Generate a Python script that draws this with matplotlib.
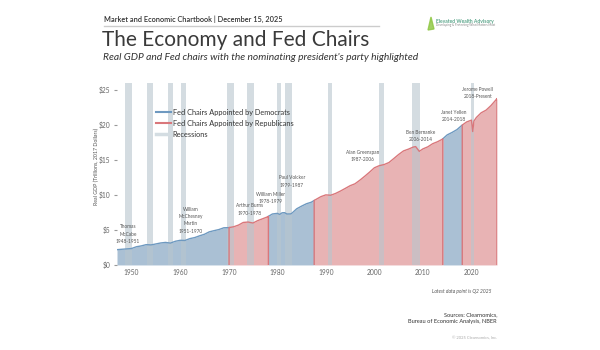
import matplotlib.pyplot as plt
from matplotlib.lines import Line2D
import numpy as np

plt.rcParams['font.family'] = ['Lato', 'DejaVu Sans']

# real GDP, trillions of 2017 dollars (mostly Q1 of each year)
dates = [1947.0, 1948.0, 1949.0, 1950.0, 1951.0, 1952.0, 1953.0, 1954.0, 1955.0, 1956.0,
         1957.0, 1958.0, 1959.0, 1960.0, 1961.0, 1962.0, 1963.0, 1964.0, 1965.0, 1966.0,
         1967.0, 1968.0, 1969.0, 1970.0, 1971.0, 1972.0, 1973.0, 1974.0, 1975.0, 1976.0,
         1977.0, 1978.0, 1979.0, 1980.0, 1980.5, 1981.0, 1981.5, 1982.0, 1982.75, 1983.0,
         1984.0, 1985.0, 1986.0, 1987.0, 1988.0, 1989.0, 1990.0, 1991.0, 1992.0, 1993.0,
         1994.0, 1995.0, 1996.0, 1997.0, 1998.0, 1999.0, 2000.0, 2001.0, 2002.0, 2003.0,
         2004.0, 2005.0, 2006.0, 2007.0, 2008.0, 2008.5, 2009.25, 2010.0, 2011.0, 2012.0,
         2013.0, 2014.0, 2015.0, 2016.0, 2017.0, 2018.0, 2019.0, 2020.0, 2020.25, 2020.5,
         2021.0, 2022.0, 2023.0, 2024.0, 2025.0, 2025.25]
gdp = [2.18, 2.24, 2.29, 2.35, 2.60, 2.72, 2.90, 2.86, 3.00, 3.14,
       3.22, 3.12, 3.38, 3.52, 3.50, 3.76, 3.91, 4.16, 4.38, 4.73,
       4.90, 5.06, 5.31, 5.33, 5.45, 5.69, 6.07, 6.13, 5.99, 6.34,
       6.60, 6.87, 7.28, 7.37, 7.22, 7.45, 7.47, 7.28, 7.29, 7.38,
       8.02, 8.40, 8.74, 8.96, 9.37, 9.76, 10.01, 9.96, 10.21, 10.55,
       10.93, 11.32, 11.59, 12.10, 12.66, 13.25, 13.88, 14.18, 14.34, 14.63,
       15.20, 15.78, 16.29, 16.54, 16.84, 16.91, 16.23, 16.58, 16.87, 17.32,
       17.60, 17.96, 18.58, 18.93, 19.33, 19.93, 20.43, 20.69, 19.06, 20.55,
       21.06, 21.74, 22.11, 22.76, 23.55, 23.77]

# start of each chair's term and the nominating president's party
party_breaks = [1947.0, 1970.08, 1978.18, 1987.61, 2014.09, 2018.10, 2025.25]
party = ['D', 'R', 'D', 'R', 'D', 'R']

rec_start = [1948.75, 1953.25, 1957.5, 1960.25, 1969.75, 1973.75, 1980.0, 1981.5,
             1990.5, 2001.0, 2007.75, 2020.0]
rec_end = [1950.0, 1954.5, 1958.5, 1961.25, 1971.0, 1975.25, 1980.75, 1983.0,
           1991.25, 2002.0, 2009.5, 2020.5]

chair_labels = ['Thomas\nMcCabe\n1948-1951', 'William\nMcChesney\nMartin\n1951-1970',
                'Arthur Burns\n1970-1978', 'William Miller\n1978-1979',
                'Paul Volcker\n1979-1987', 'Alan Greenspan\n1987-2006',
                'Ben Bernanke\n2006-2014', 'Janet Yellen\n2014-2018',
                'Jerome Powell\n2018-Present']
label_x = [1949.3, 1962.2, 1974.3, 1978.6, 1983.0, 1997.6, 2009.6, 2016.4, 2021.3]
label_y = [4.4, 6.4, 7.9, 9.6, 11.9, 15.6, 18.4, 21.3, 24.6]

fill_col = {'D': '#aac0d4', 'R': '#e8b3b4'}
line_col = {'D': '#6e99c0', 'R': '#d9777b'}

dates = np.array(dates)
gdp = np.array(gdp)

fig = plt.figure(figsize=(6, 3.5), dpi=100)
ax = fig.add_axes([0.195, 0.243, 0.6333, 0.52])

order = [i for i in range(len(party)) if party[i] == 'D'] + [i for i in range(len(party)) if party[i] == 'R']
for i in order:
    a, b = party_breaks[i], party_breaks[i + 1]
    m = (dates > a) & (dates < b)
    xs = np.concatenate([[a], dates[m], [b]])
    ys = np.concatenate([[np.interp(a, dates, gdp)], gdp[m], [np.interp(b, dates, gdp)]])
    ax.fill_between(xs, 0, ys, color=fill_col[party[i]], lw=0, zorder=1)
    if party[i] == 'R':
        ax.plot(np.concatenate([[a], xs, [b]]), np.concatenate([[0], ys, [0]]),
                color=line_col['R'], lw=1, zorder=3)
    else:
        ax.plot(xs, ys, color=line_col['D'], lw=1, zorder=3)

for s, e in zip(rec_start, rec_end):
    ax.axvspan(s, e, color='#b8c6ce', alpha=0.6, lw=0, zorder=2)

for txt, x, y in zip(chair_labels, label_x, label_y):
    ax.text(x, y, txt, ha='center', va='center', fontsize=3.4, color='#555555',
            linespacing=1.6, zorder=4)

ax.set_xlim(1947, 2025.25)
ax.set_ylim(0, 26)
ax.set_xticks(range(1950, 2021, 10))
ax.set_yticks(range(0, 26, 5))
ax.set_yticklabels(['$' + str(v) for v in range(0, 26, 5)])
ax.tick_params(axis='both', labelsize=4.8, colors='#666666', length=0, pad=3)
ax.tick_params(axis='y', length=2, color='#999999')
for sp in ax.spines.values():
    sp.set_visible(False)

handles = [Line2D([], [], color=line_col['D'], lw=1.5),
           Line2D([], [], color=line_col['R'], lw=1.5),
           Line2D([], [], color='#d4dde2', lw=2.5)]
ax.legend(handles, ['Fed Chairs Appointed by Democrats', 'Fed Chairs Appointed by Republicans',
                    'Recessions'],
          loc='upper left', bbox_to_anchor=(0.085, 0.895), frameon=False, fontsize=5.3,
          handlelength=2.0, handletextpad=0.3, labelspacing=0.55, labelcolor='#333333')

fig.text(96 / 600, 1 - 166 / 350, 'Real GDP (Trillions, 2017 Dollars)', rotation=90,
         ha='center', va='center', fontsize=3.8, color='#555555')

# header
fig.text(104 / 600, 1 - 19 / 350, 'Market and Economic Chartbook | December 15, 2025',
         fontsize=5.3, weight='semibold', color='#333333', va='center')
fig.add_artist(Line2D([104 / 600, 379 / 600], [1 - 26 / 350] * 2, color='#cccccc', lw=1))
fig.text(102 / 600, 1 - 40 / 350, 'The Economy and Fed Chairs', fontsize=15,
         color='#3a3a3a', va='center')
fig.text(103 / 600, 1 - 57 / 350,
         "Real GDP and Fed chairs with the nominating president's party highlighted",
         fontsize=7.4, style='italic', color='#333333', va='center')
fig.text(436 / 600, 1 - 21 / 350, 'Elevated Wealth Advisory', fontsize=3.6,
         weight='bold', color='#5aa58a', va='center')
fig.text(436 / 600, 1 - 25 / 350, 'Developing & Protecting What Matters Most', fontsize=2.2,
         color='#888888', va='center')
fig.patches.append(plt.Polygon([[428 / 600, 1 - 30 / 350], [431 / 600, 1 - 17 / 350],
                                [434 / 600, 1 - 29 / 350]], closed=True,
                               transform=fig.transFigure, color='#8cc63f', alpha=0.8))

# footer
fig.text(492 / 600, 1 - 291 / 350, 'Latest data point is Q2 2025', fontsize=3.5,
         style='italic', color='#555555', ha='right', va='center')
fig.text(497 / 600, 1 - 318 / 350, 'Sources: Clearnomics,\nBureau of Economic Analysis, NBER',
         fontsize=4.1, color='#333333', ha='right', va='center', linespacing=1.4)
fig.text(497 / 600, 1 - 338 / 350, '\u00a9 2025 Clearnomics, Inc.', fontsize=3.0,
         color='#aaaaaa', ha='right', va='center')

fig.savefig('out.png', dpi=100)
